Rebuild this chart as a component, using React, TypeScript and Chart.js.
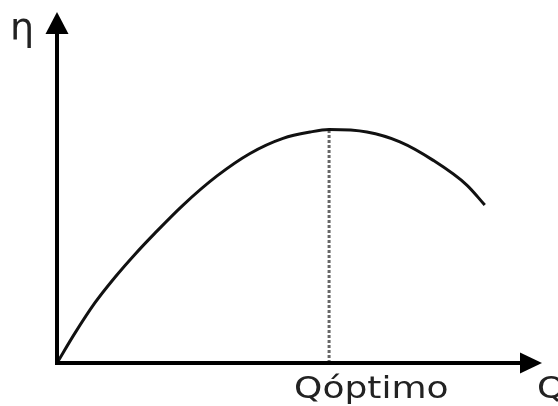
import React, { useEffect, useRef } from "react";
import { Chart, registerables } from "chart.js";

Chart.register(...registerables);

const Q_VALUES = [0, 3.7, 7.8, 12.0, 16.1, 20.2, 26.0, 33.0, 39.8, 46.6, 52.2, 56.1, 63.9, 70.7, 77.5, 84.5, 88.2];
const ETA_VALUES = [0, 8.5, 17.1, 24.5, 31.0, 37.0, 45.0, 53.3, 59.7, 64.0, 65.8, 66.5, 65.8, 63.0, 57.8, 50.7, 45.0];
const Q_OPT = 56.1;
const ETA_MAX = 66.5;
const X_LABEL = "Q";
const Y_LABEL = "η";
const OPT_LABEL = "Qóptimo";

const axesPlugin = {
  id: "arrowAxes",
  afterDatasetsDraw(chart: any) {
    const ctx = chart.ctx;
    const xs = chart.scales.x;
    const ys = chart.scales.y;
    const x0 = xs.getPixelForValue(0);
    const y0 = ys.getPixelForValue(0);
    const xEnd = xs.getPixelForValue(100);
    const yTop = ys.getPixelForValue(100);
    ctx.save();
    ctx.strokeStyle = "#000";
    ctx.fillStyle = "#000";
    ctx.lineWidth = 4;
    ctx.lineCap = "butt";
    // y axis
    ctx.beginPath();
    ctx.moveTo(x0, y0 + 2);
    ctx.lineTo(x0, yTop + 18);
    ctx.stroke();
    ctx.beginPath();
    ctx.moveTo(x0, yTop);
    ctx.lineTo(x0 - 11.5, yTop + 22);
    ctx.lineTo(x0 + 11.5, yTop + 22);
    ctx.closePath();
    ctx.fill();
    // x axis
    ctx.beginPath();
    ctx.moveTo(x0 - 2, y0);
    ctx.lineTo(xEnd - 18, y0);
    ctx.stroke();
    ctx.beginPath();
    ctx.moveTo(xEnd, y0);
    ctx.lineTo(xEnd - 22, y0 - 10.5);
    ctx.lineTo(xEnd - 22, y0 + 10.5);
    ctx.closePath();
    ctx.fill();

    // labels
    ctx.fillStyle = "#222";
    ctx.textBaseline = "alphabetic";
    ctx.font = '38px "DejaVu Sans"';
    ctx.textAlign = "left";
    ctx.fillText(Y_LABEL, 10, 40);

    const drawStretched = (txt: string, x: number, y: number) => {
      ctx.save();
      ctx.translate(x, y);
      ctx.scale(1.2, 1);
      ctx.font = '30px "DejaVu Sans"';
      ctx.textAlign = "left";
      ctx.fillText(txt, 0, 0);
      ctx.restore();
    };
    drawStretched(OPT_LABEL, xs.getPixelForValue(Q_OPT) - 35, 398);
    drawStretched(X_LABEL, xEnd - 5, 398);
    ctx.restore();
  },
};

export default function App() {
  const ref = useRef<HTMLCanvasElement>(null);
  useEffect(() => {
    document.body.style.margin = "0";
    const curve = Q_VALUES.map((q, i) => ({ x: q, y: ETA_VALUES[i] }));
    const chart = new Chart(ref.current!, {
      type: "scatter",
      data: {
        datasets: [
          {
            data: curve,
            showLine: true,
            borderColor: "#111",
            borderWidth: 3,
            pointRadius: 0,
            cubicInterpolationMode: "monotone",
          } as any,
          {
            data: [
              { x: Q_OPT, y: 0 },
              { x: Q_OPT, y: ETA_MAX },
            ],
            showLine: true,
            borderColor: "#666",
            borderWidth: 3,
            borderDash: [3, 2],
            pointRadius: 0,
          } as any,
        ],
      },
      options: {
        animation: false,
        responsive: false,
        maintainAspectRatio: false,
        layout: { padding: { left: 57, right: 16, top: 12, bottom: 43 } },
        plugins: { legend: { display: false }, tooltip: { enabled: false } },
        scales: {
          x: { type: "linear", min: 0, max: 100, display: false },
          y: { type: "linear", min: 0, max: 100, display: false },
        },
      },
      plugins: [axesPlugin],
    });
    return () => chart.destroy();
  }, []);
  return (
    <div style={{ width: 558, height: 406, background: "#fff" }}>
      <canvas ref={ref} width={558} height={406} />
    </div>
  );
}
